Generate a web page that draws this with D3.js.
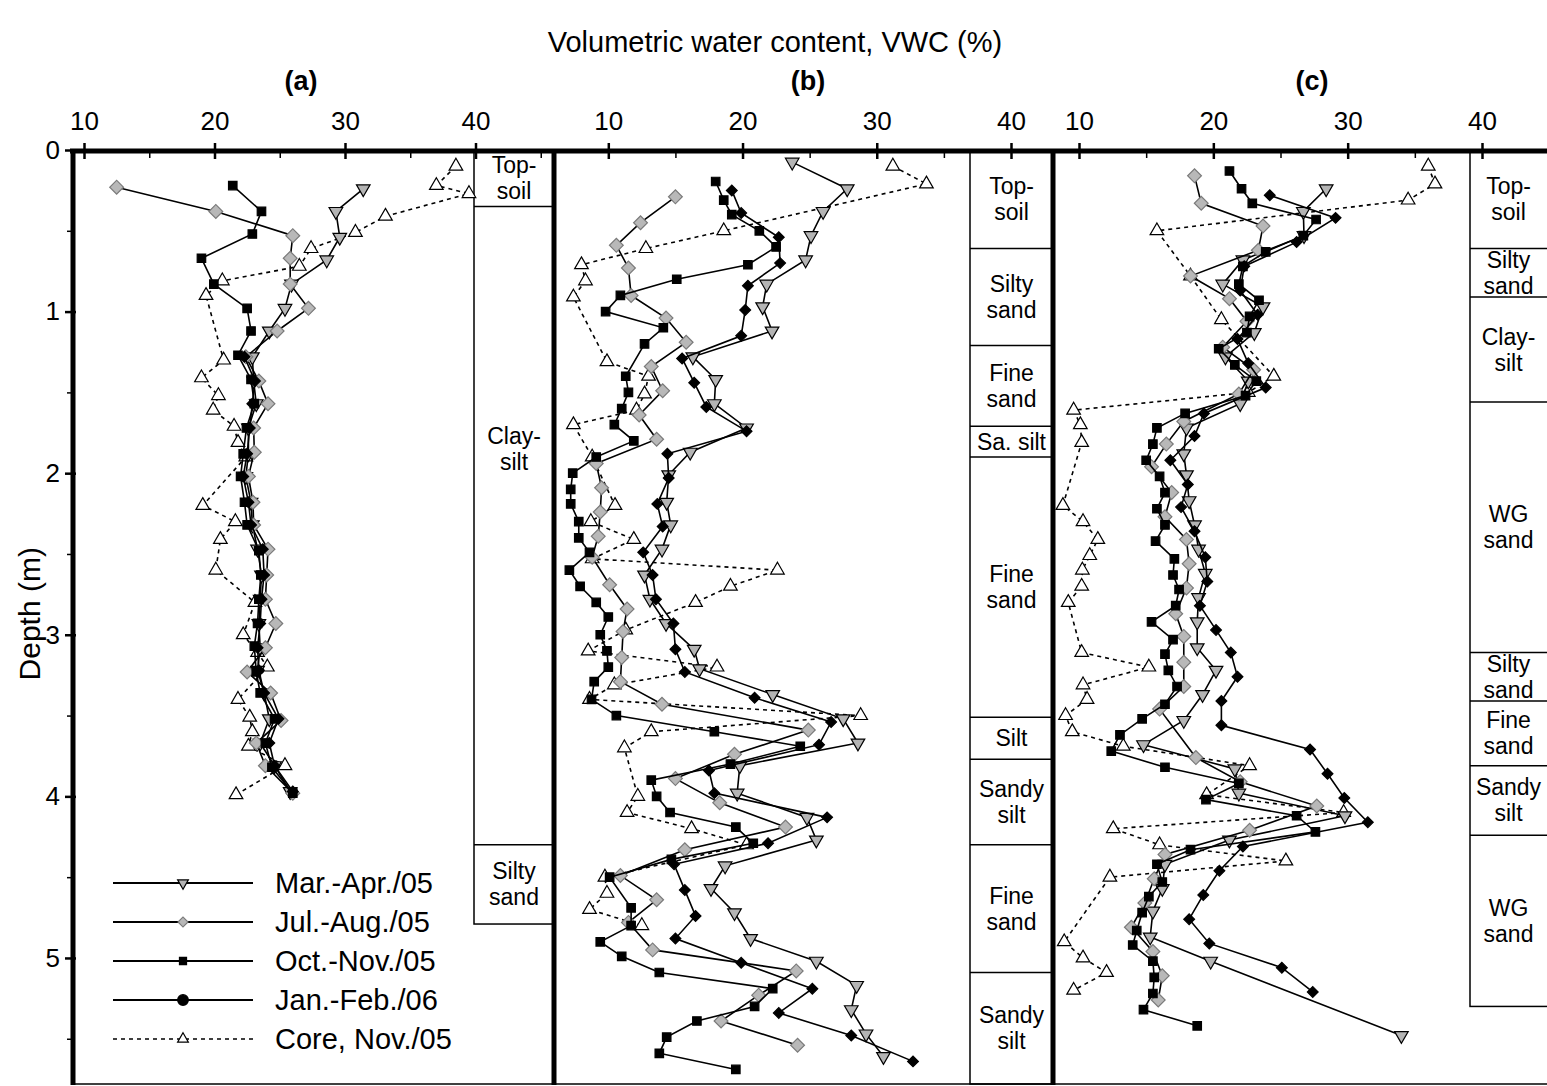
<!DOCTYPE html>
<html>
<head>
<meta charset="utf-8">
<script src="https://cdn.jsdelivr.net/npm/d3@7"></script>
<style>
  body { margin: 0; background: #fff; }
  svg { display: block; font-family: "Liberation Sans", Arial, sans-serif; }
</style>
</head>
<body>
<div id="chart"></div>
<script>
// Each point is [VWC (%), depth (m)]
const aMarApr = [[31.4,0.24],[29.3,0.38],[29.6,0.54],[28.6,0.68],[25.9,0.83],[25.4,0.98],[24.2,1.12],[22.9,1.28],[23.0,1.43],[23.2,1.57],[22.6,1.72],[22.6,1.88],[22.4,2.02],[22.8,2.18],[22.9,2.32],[23.3,2.47],[23.6,2.63],[23.5,2.78],[23.4,2.93],[23.5,3.08],[23.3,3.22],[23.8,3.36],[24.2,3.52],[23.5,3.67],[24.6,3.81],[25.8,3.97]];
const aJulAug = [[12.5,0.23],[20.1,0.38],[26.0,0.53],[25.8,0.67],[25.8,0.83],[27.2,0.98],[24.8,1.12],[22.4,1.28],[23.4,1.43],[24.1,1.57],[23.0,1.72],[23.05,1.87],[22.6,2.02],[22.95,2.18],[23.0,2.32],[24.1,2.47],[24.0,2.63],[23.9,2.78],[24.7,2.93],[23.9,3.08],[22.5,3.23],[24.3,3.36],[25.1,3.53],[23.2,3.67],[23.9,3.81],[26.0,3.98]];
const aOctNov = [[21.4,0.22],[23.6,0.38],[22.9,0.52],[19.0,0.67],[19.95,0.83],[22.5,0.98],[22.8,1.12],[21.8,1.27],[22.8,1.42],[23.05,1.57],[22.45,1.72],[22.2,1.88],[22.0,2.02],[22.3,2.18],[22.5,2.32],[23.4,2.48],[23.55,2.63],[23.4,2.78],[23.3,2.93],[23.05,3.07],[23.2,3.23],[23.5,3.36],[24.6,3.52],[23.9,3.67],[24.4,3.82],[26.0,3.98]];
const aJanFeb = [[22.3,1.28],[23.1,1.43],[22.9,1.57],[22.7,1.72],[22.5,1.88],[22.2,2.02],[22.6,2.18],[22.8,2.32],[23.7,2.47],[23.8,2.63],[23.6,2.78],[23.5,2.93],[23.3,3.08],[23.4,3.22],[23.8,3.36],[24.9,3.52],[24.2,3.67],[24.6,3.81],[26.0,3.97]];
const aCore = [[38.5,0.10],[37.0,0.22],[39.5,0.27],[33.1,0.41],[30.8,0.51],[27.4,0.61],[26.5,0.72],[20.6,0.81],[19.35,0.90],[20.7,1.30],[19.0,1.41],[20.3,1.52],[19.9,1.61],[21.5,1.71],[21.8,1.81],[22.4,1.90],[19.1,2.20],[21.6,2.30],[20.45,2.41],[20.1,2.60],[23.1,2.80],[22.2,3.00],[23.3,3.11],[24.05,3.20],[21.8,3.40],[22.7,3.51],[22.9,3.60],[22.6,3.69],[25.4,3.81],[21.65,3.99]];

const bMarApr = [[23.7,0.075],[27.8,0.24],[26.0,0.38],[25.1,0.53],[24.7,0.68],[21.8,0.83],[21.5,0.97],[22.2,1.12],[16.3,1.28],[18.0,1.42],[17.9,1.57],[20.3,1.72],[16.1,1.87],[14.5,2.01],[14.35,2.18],[14.65,2.32],[14.0,2.47],[12.7,2.63],[13.1,2.78],[14.3,2.93],[16.4,3.09],[16.8,3.21],[22.25,3.37],[27.5,3.52],[28.6,3.67],[19.8,3.81],[19.6,3.98],[24.8,4.13],[25.5,4.27],[18.7,4.43],[17.65,4.57],[19.4,4.72],[20.6,4.88],[25.5,5.02],[28.5,5.17],[28.1,5.32],[29.2,5.47],[30.5,5.61]];
const bJulAug = [[15.0,0.29],[12.4,0.45],[10.6,0.59],[11.5,0.73],[11.7,0.90],[14.3,1.04],[15.8,1.19],[13.2,1.34],[14.05,1.49],[12.3,1.64],[13.6,1.79],[9.1,1.94],[9.5,2.09],[9.4,2.24],[9.25,2.39],[8.8,2.52],[10.1,2.69],[11.4,2.84],[11.1,2.98],[11.0,3.14],[10.9,3.29],[14.0,3.43],[24.9,3.59],[19.4,3.74],[15.0,3.89],[18.3,4.04],[23.2,4.19],[15.7,4.33],[10.9,4.49],[13.6,4.64],[11.5,4.78],[13.3,4.95],[24.0,5.08],[21.2,5.23],[18.4,5.39],[24.1,5.54]];
const bOctNov = [[18.0,0.195],[18.6,0.31],[19.2,0.40],[21.25,0.50],[22.5,0.60],[20.4,0.71],[15.1,0.80],[10.9,0.90],[9.8,1.00],[14.1,1.10],[12.7,1.20],[11.3,1.40],[11.5,1.50],[11.0,1.60],[10.45,1.70],[11.9,1.80],[9.1,1.90],[7.35,2.00],[7.2,2.10],[7.2,2.19],[7.8,2.30],[7.8,2.40],[8.6,2.49],[7.1,2.60],[7.9,2.70],[9.1,2.80],[10.0,2.89],[9.4,3.00],[9.9,3.10],[10.0,3.20],[8.95,3.29],[8.75,3.40],[10.6,3.50],[17.9,3.60],[24.3,3.69],[19.1,3.80],[13.2,3.90],[13.6,4.00],[14.6,4.10],[19.5,4.19],[20.8,4.29],[14.7,4.39],[10.1,4.50],[11.7,4.69],[11.7,4.80],[9.4,4.90],[11.0,4.99],[13.8,5.09],[22.25,5.19],[20.9,5.30],[16.6,5.39],[14.35,5.49],[13.8,5.59],[19.5,5.69]];
const bJanFeb = [[19.2,0.25],[19.9,0.39],[22.7,0.54],[22.8,0.70],[20.4,0.84],[20.2,0.99],[19.9,1.15],[15.5,1.29],[16.4,1.44],[17.3,1.59],[20.3,1.74],[14.4,1.88],[14.5,2.03],[13.65,2.19],[14.05,2.33],[12.6,2.49],[13.3,2.63],[13.55,2.78],[14.85,2.93],[15.0,3.09],[15.7,3.23],[20.9,3.39],[26.6,3.54],[25.7,3.68],[17.5,3.84],[17.9,3.98],[26.3,4.13],[21.9,4.29],[14.9,4.42],[15.7,4.58],[16.5,4.74],[15.0,4.88],[19.9,5.03],[25.2,5.19],[22.7,5.34],[28.1,5.48],[32.7,5.64]];
const bCore = [[31.2,0.10],[33.7,0.21],[18.6,0.50],[12.8,0.61],[8.0,0.71],[8.3,0.81],[7.4,0.91],[9.9,1.31],[13.0,1.40],[12.7,1.51],[12.1,1.61],[7.4,1.70],[8.8,1.90],[10.5,2.20],[8.7,2.30],[11.9,2.41],[8.8,2.53],[22.6,2.60],[19.1,2.70],[16.5,2.80],[11.3,2.97],[8.5,3.10],[18.1,3.20],[10.45,3.31],[8.6,3.40],[28.8,3.50],[13.2,3.60],[11.2,3.70],[12.2,4.00],[11.4,4.10],[16.2,4.20],[20.3,4.30],[9.75,4.50],[9.9,4.60],[8.6,4.70],[12.5,4.80]];

const cMarApr = [[28.4,0.24],[26.7,0.38],[26.75,0.53],[22.2,0.68],[20.7,0.83],[23.7,0.97],[23.05,1.13],[20.9,1.28],[22.6,1.43],[22.0,1.57],[18.0,1.72],[17.8,1.88],[18.0,2.01],[18.2,2.17],[18.6,2.32],[18.9,2.47],[19.4,2.62],[18.9,2.77],[18.8,2.92],[18.8,3.08],[20.2,3.22],[19.2,3.37],[17.8,3.53],[14.8,3.68],[21.6,3.83],[21.9,3.98],[29.8,4.12],[21.2,4.27],[16.4,4.42],[16.2,4.57],[15.5,4.71],[15.3,4.87],[19.8,5.02],[34.0,5.48]];
const cJulAug = [[18.6,0.16],[19.1,0.33],[23.7,0.47],[23.35,0.62],[18.3,0.78],[21.2,0.92],[22.5,1.06],[20.7,1.22],[23.0,1.36],[21.9,1.51],[17.8,1.68],[16.5,1.82],[15.4,1.96],[16.9,2.12],[16.4,2.27],[18.0,2.41],[18.2,2.56],[18.0,2.71],[17.2,2.87],[17.8,3.01],[17.8,3.17],[17.8,3.32],[16.0,3.46],[18.7,3.76],[22.0,3.91],[27.7,4.06],[22.7,4.21],[16.4,4.36],[15.6,4.51],[14.9,4.66],[13.9,4.81],[15.5,4.96],[16.2,5.11],[15.9,5.26]];
const cOctNov = [[21.2,0.13],[22.1,0.24],[22.9,0.33],[27.65,0.43],[26.7,0.53],[23.9,0.63],[22.2,0.72],[21.9,0.83],[23.4,0.93],[22.7,1.03],[22.5,1.13],[20.4,1.23],[21.6,1.33],[23.2,1.43],[22.4,1.52],[17.9,1.63],[15.8,1.72],[15.5,1.82],[15.0,1.92],[16.0,2.02],[16.4,2.12],[15.8,2.22],[16.4,2.32],[15.7,2.42],[17.1,2.53],[17.0,2.63],[17.45,2.72],[17.2,2.82],[15.4,2.92],[17.0,3.03],[16.4,3.12],[16.65,3.22],[17.3,3.32],[16.4,3.43],[14.7,3.52],[13.05,3.62],[12.4,3.72],[16.4,3.82],[21.9,3.92],[19.45,4.02],[26.2,4.12],[27.6,4.22],[18.3,4.33],[15.8,4.42],[16.2,4.53],[15.2,4.62],[14.7,4.72],[14.3,4.83],[14.0,4.92],[15.5,5.02],[15.6,5.12],[15.5,5.22],[14.8,5.32],[18.8,5.42]];
const cJanFeb = [[24.2,0.28],[29.1,0.42],[26.2,0.57],[22.3,0.72],[22.0,0.87],[23.3,1.02],[21.8,1.17],[22.6,1.32],[23.9,1.47],[19.3,1.63],[18.6,1.77],[16.8,1.92],[18.1,2.07],[17.6,2.21],[18.6,2.36],[19.4,2.52],[19.55,2.67],[19.0,2.82],[20.2,2.97],[21.3,3.11],[21.8,3.26],[20.6,3.41],[20.6,3.56],[27.2,3.71],[28.5,3.86],[29.75,4.01],[31.5,4.16],[22.2,4.31],[20.45,4.46],[19.25,4.61],[18.2,4.76],[19.7,4.91],[25.1,5.06],[27.4,5.21]];
const cCore = [[36.0,0.10],[36.5,0.21],[34.5,0.31],[15.8,0.50],[18.3,0.78],[20.6,1.05],[24.5,1.40],[22.6,1.50],[9.6,1.61],[10.1,1.70],[10.2,1.81],[8.8,2.20],[10.3,2.30],[11.4,2.41],[10.8,2.51],[10.25,2.60],[10.2,2.70],[9.2,2.80],[10.2,3.11],[15.2,3.20],[10.3,3.31],[10.6,3.40],[9.0,3.50],[9.5,3.60],[13.3,3.69],[22.7,3.81],[19.5,3.99],[29.7,4.10],[12.55,4.20],[16.0,4.30],[25.4,4.40],[12.3,4.50],[8.9,4.90],[10.3,5.00],[12.05,5.09],[9.6,5.20]];

// Soil layers: [name, top depth, bottom depth]
const layersA = [['Top-\nsoil',0,0.35],['Clay-\nsilt',0.35,4.30],['Silty\nsand',4.30,4.79]];
const layersB = [['Top-\nsoil',0,0.61],['Silty\nsand',0.61,1.21],['Fine\nsand',1.21,1.71],['Sa. silt',1.71,1.90],['Fine\nsand',1.90,3.51],['Silt',3.51,3.77],['Sandy\nsilt',3.77,4.30],['Fine\nsand',4.30,5.09],['Sandy\nsilt',5.09,5.78]];
const layersC = [['Top-\nsoil',0,0.61],['Silty\nsand',0.61,0.91],['Clay-\nsilt',0.91,1.56],['WG\nsand',1.56,3.11],['Silty\nsand',3.11,3.41],['Fine\nsand',3.41,3.81],['Sandy\nsilt',3.81,4.24],['WG\nsand',4.24,5.30]];

const seriesNames = ['Mar.-Apr./05','Jul.-Aug./05','Oct.-Nov./05','Jan.-Feb./06','Core, Nov./05'];
const vwcTicks = [10,20,30,40];
const vwcMinorTicks = [15,25,35,45];
const depthTicks = [0,1,2,3,4,5];
const depthMinorTicks = [0.5,1.5,2.5,3.5,4.5,5.5];

const width = 1547, height = 1086;
const maxDepth = 5.78;

const svg = d3.select('#chart').append('svg')
  .attr('width', width)
  .attr('height', height);

const y = d3.scaleLinear().domain([0, maxDepth]).range([150, 1084]);

// marker styles, in series order
const styles = [
  { type: d3.symbolTriangle, size: 80, rotate: 180, fill: '#b4b4b4', stroke: '#000', dash: null },
  { type: d3.symbolSquare, size: 95, rotate: 45, fill: '#b8b8b8', stroke: '#7a7a7a', dash: null },
  { type: d3.symbolSquare, size: 72, rotate: 0, fill: '#000', stroke: '#000', dash: null },
  { type: d3.symbolSquare, size: 58, rotate: 45, fill: '#000', stroke: '#000', dash: null },
  { type: d3.symbolTriangle, size: 80, rotate: 0, fill: '#fff', stroke: '#000', dash: '4,4' },
];
const drawOrder = [4, 0, 1, 2, 3];

const panels = [
  { left: 73, right: 554, r10: 84, r40: 475.5, boxLeft: 474, label: '(a)', labelX: 301,
    series: [aMarApr, aJulAug, aOctNov, aJanFeb, aCore], layers: layersA },
  { left: 554, right: 1053, r10: 608.3, r40: 1011, boxLeft: 970, label: '(b)', labelX: 808,
    series: [bMarApr, bJulAug, bOctNov, bJanFeb, bCore], layers: layersB },
  { left: 1053, right: 1552, r10: 1079, r40: 1482, boxLeft: 1470, label: '(c)', labelX: 1312,
    series: [cMarApr, cJulAug, cOctNov, cJanFeb, cCore], layers: layersC },
];

// label of the tall clay-silt layer in (a) sits high in the box
const labelDepthOverride = { '0-1': 1.85 };

svg.append('text')
  .attr('x', 775).attr('y', 52)
  .attr('text-anchor', 'middle')
  .attr('font-size', 29)
  .text('Volumetric water content, VWC (%)');

panels.forEach((p, pi) => {
  const x = d3.scaleLinear().domain([10, 40]).range([p.r10, p.r40]);
  const g = svg.append('g');

  g.append('text')
    .attr('x', p.labelX).attr('y', 90)
    .attr('text-anchor', 'middle')
    .attr('font-size', 27)
    .attr('font-weight', 'bold')
    .text(p.label);

  // soil column
  const last = p.layers[p.layers.length - 1][2];
  const box = g.append('g')
    .attr('fill', 'none')
    .attr('stroke', '#000')
    .attr('stroke-width', 1.5);
  box.append('rect')
    .attr('x', p.boxLeft).attr('y', y(0))
    .attr('width', p.right - p.boxLeft)
    .attr('height', y(last) - y(0));
  box.selectAll('line')
    .data(p.layers.slice(0, -1))
    .enter().append('line')
      .attr('x1', p.boxLeft).attr('x2', p.right)
      .attr('y1', d => y(d[2])).attr('y2', d => y(d[2]));

  const cx = (p.boxLeft + Math.min(p.right, width)) / 2;
  p.layers.forEach((L, li) => {
    const mid = labelDepthOverride[pi + '-' + li] !== undefined ?
      labelDepthOverride[pi + '-' + li] : (L[1] + L[2]) / 2;
    const lines = L[0].split('\n');
    const t = g.append('text')
      .attr('text-anchor', 'middle')
      .attr('font-size', 23)
      .attr('x', cx)
      .attr('y', y(mid) - (lines.length - 1) * 13 + 8);
    lines.forEach((s, k) => {
      t.append('tspan').attr('x', cx).attr('dy', k === 0 ? 0 : 26).text(s);
    });
  });

  // profiles
  const line = d3.line().x(d => x(d[0])).y(d => y(d[1]));
  drawOrder.forEach(si => {
    const st = styles[si];
    const data = p.series[si];
    g.append('path')
      .datum(data)
      .attr('fill', 'none')
      .attr('stroke', '#000')
      .attr('stroke-width', 1.6)
      .attr('stroke-dasharray', st.dash)
      .attr('d', line);
    g.append('g').selectAll('path')
      .data(data)
      .enter().append('path')
        .attr('transform', d => `translate(${x(d[0])},${y(d[1])}) rotate(${st.rotate})`)
        .attr('d', d3.symbol().type(st.type).size(st.size))
        .attr('fill', st.fill)
        .attr('stroke', st.stroke)
        .attr('stroke-width', 1.2);
  });

  // top axis
  const axis = g.append('g')
    .attr('transform', 'translate(0,151)')
    .call(d3.axisTop(x).tickValues(vwcTicks).tickSize(8).tickPadding(13).tickFormat(d3.format('d')))
    .attr('font-size', 26)
    .attr('font-family', null);
  axis.select('.domain').remove();
  axis.selectAll('.tick line').attr('y1', 8).attr('stroke-width', 2.5);
  axis.selectAll('.tick text').attr('fill', '#000');

  const minor = g.append('g')
    .attr('transform', 'translate(0,151)')
    .call(d3.axisTop(x)
      .tickValues(vwcMinorTicks.filter(v => x(v) > p.left + 4 && x(v) < p.right - 4))
      .tickSize(0).tickFormat(''));
  minor.select('.domain').remove();
  minor.selectAll('.tick line').attr('y2', 7).attr('stroke-width', 1.5);
});

// depth axis
const yAxis = svg.append('g')
  .attr('transform', 'translate(73,0)')
  .call(d3.axisLeft(y).tickValues(depthTicks).tickSize(8).tickPadding(5).tickFormat(d3.format('d')))
  .attr('font-size', 26)
  .attr('font-family', null);
yAxis.select('.domain').remove();
yAxis.selectAll('.tick line').attr('x1', 3).attr('stroke-width', 2.5);
yAxis.selectAll('.tick text').attr('fill', '#000');

const yMinor = svg.append('g')
  .attr('transform', 'translate(73,0)')
  .call(d3.axisLeft(y).tickValues(depthMinorTicks).tickSize(6).tickFormat(''));
yMinor.select('.domain').remove();
yMinor.selectAll('.tick line').attr('stroke-width', 1.5);

svg.append('text')
  .attr('transform', `translate(40,${y(2.87)}) rotate(-90)`)
  .attr('text-anchor', 'middle')
  .attr('font-size', 30)
  .text('Depth (m)');

// frame
const frame = svg.append('g').attr('stroke', '#000');
frame.append('line').attr('x1', 70).attr('x2', width).attr('y1', 151).attr('y2', 151).attr('stroke-width', 5);
[73, 554, 1053].forEach(xx => {
  frame.append('line').attr('x1', xx).attr('x2', xx).attr('y1', 149).attr('y2', 1085).attr('stroke-width', 5);
});
frame.append('line').attr('x1', 73).attr('x2', width).attr('y1', 1084).attr('y2', 1084).attr('stroke-width', 1.5);

// legend
const legend = svg.append('g').attr('transform', 'translate(113,883)');
const rows = legend.selectAll('g')
  .data(seriesNames)
  .enter().append('g')
    .attr('transform', (d, i) => `translate(0,${i * 39})`);
rows.append('line')
  .attr('x1', 0).attr('x2', 140)
  .attr('stroke', '#000')
  .attr('stroke-width', (d, i) => i === 4 ? 1.5 : 2)
  .attr('stroke-dasharray', (d, i) => styles[i].dash);
rows.append('path')
  .attr('transform', (d, i) => `translate(70,0) rotate(${styles[i].rotate})`)
  .attr('d', (d, i) => d3.symbol().type(i === 3 ? d3.symbolCircle : styles[i].type).size(i === 3 ? 90 : 50)())
  .attr('fill', (d, i) => styles[i].fill)
  .attr('stroke', (d, i) => styles[i].stroke)
  .attr('stroke-width', 1.2);
rows.append('text')
  .attr('x', 162).attr('y', 0).attr('dy', '0.36em')
  .attr('font-size', 29)
  .text(d => d);
</script>
</body>
</html>
